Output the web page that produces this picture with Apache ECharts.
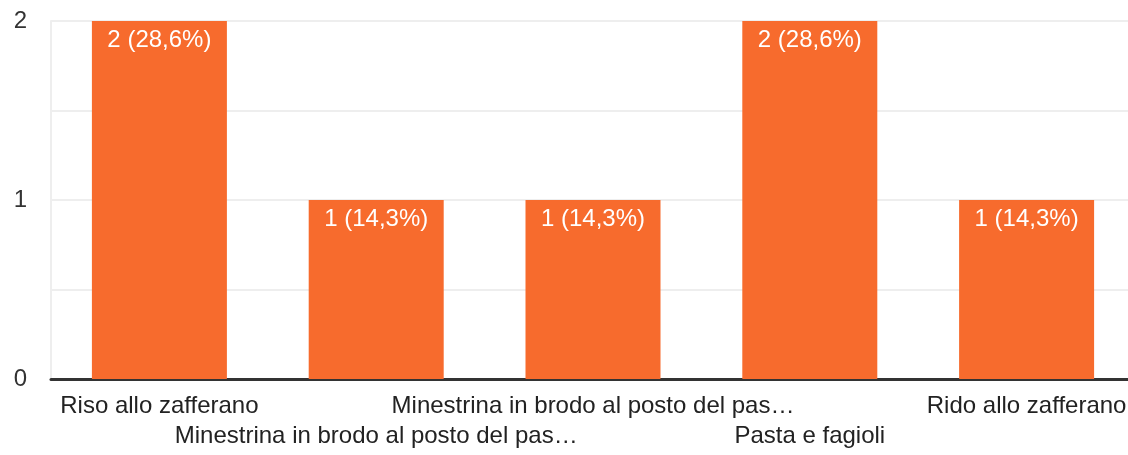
<!DOCTYPE html>
<html>
<head>
<meta charset="utf-8">
<script src="https://cdn.jsdelivr.net/npm/echarts@6/dist/echarts.min.js"></script>
<style>html,body{margin:0;padding:0;background:#fff;overflow:hidden;width:1128px;height:455px}#c{width:1135px;height:455px}</style>
</head>
<body>
<div id="c"></div>
<script>
const categories = ["Riso allo zafferano", "Minestrina in brodo al posto del pas…", "Minestrina in brodo al posto del pas…", "Pasta e fagioli", "Rido allo zafferano"];
const values = [2, 1, 1, 2, 1];
const percents = ["28,6%", "14,3%", "14,3%", "28,6%", "14,3%"];
const yTickLabels = ["0", "1", "2"];

const FONT = 'Liberation Sans, Arial, sans-serif';
const chart = echarts.init(document.getElementById('c'), null, {renderer: 'canvas'});
chart.setOption({
  animation: false,
  grid: {left: 51, right: 0, top: 21, bottom: 76, containLabel: false, show: false},
  xAxis: {
    type: 'category',
    data: categories,
    axisLine: {show: true, lineStyle: {color: '#333', width: 3}},
    axisTick: {show: false},
    splitLine: {show: false},
    axisLabel: {
      interval: 0,
      color: '#222',
      fontSize: 24,
      fontFamily: FONT,
      margin: 12,
      lineHeight: 30,
      formatter: function (v, i) { return i % 2 === 1 ? '\n' + v : v; }
    }
  },
  yAxis: {
    type: 'value',
    min: 0, max: 2, interval: 0.5,
    axisLine: {show: true, lineStyle: {color: '#eeeeee', width: 2}},
    axisTick: {show: false},
    splitLine: {show: true, lineStyle: {color: '#eeeeee', width: 2}},
    axisLabel: {
      color: '#333',
      fontSize: 24,
      fontFamily: FONT,
      margin: 24,
      formatter: function (v) { const s = String(v); return yTickLabels.indexOf(s) >= 0 ? s : ''; }
    }
  },
  series: [{
    type: 'bar',
    data: values,
    barWidth: 135,
    itemStyle: {color: '#f76b2d'},
    label: {
      show: true,
      position: 'insideTop',
      distance: 7,
      color: '#fff',
      fontSize: 24,
      fontFamily: FONT,
      formatter: function (p) { return p.value + ' (' + percents[p.dataIndex] + ')'; }
    }
  }]
});
</script>
</body>
</html>
